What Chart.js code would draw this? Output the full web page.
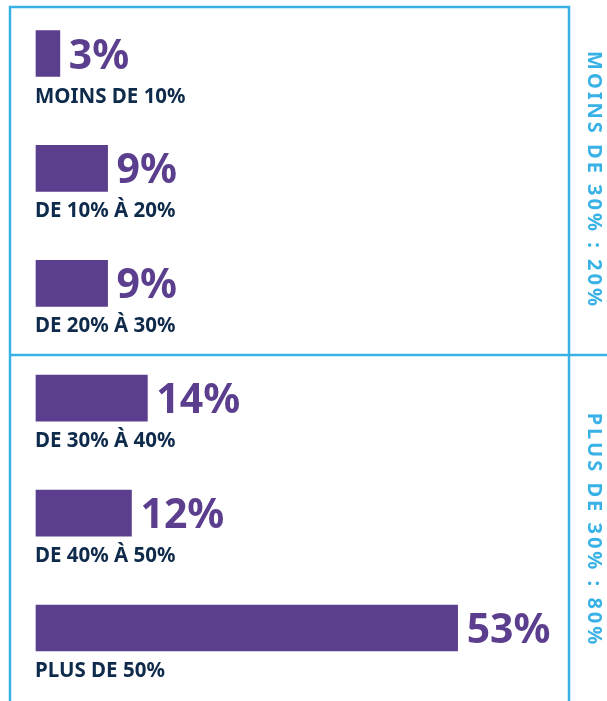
<!DOCTYPE html>
<html>
<head>
<meta charset="utf-8">
<script src="https://cdn.jsdelivr.net/npm/chart.js@4.4.0/dist/chart.umd.min.js"></script>
<style>
  html, body { margin: 0; padding: 0; background: #fff; }
  #graf { display: block; }
</style>
</head>
<body>
<canvas id="graf" width="607" height="701"></canvas>
<script>
// === DADOS ===
const categorias = ['MOINS DE 10%', 'DE 10% À 20%', 'DE 20% À 30%', 'DE 30% À 40%', 'DE 40% À 50%', 'PLUS DE 50%'];
const valores = [3, 9, 9, 14, 12, 53];
const grupos = ['MOINS DE 30% : 20%', 'PLUS DE 30% : 80%'];

const roxo = '#5b3e8d';
const azul = '#38b2e6';
const marinho = '#0f2b4b';

// desenha moldura, rótulos e textos laterais
const extras = {
  id: 'extras',
  afterDatasetsDraw(chart) {
    const ctx = chart.ctx;
    const x = chart.scales.x;
    const y = chart.scales.y;

    // moldura
    ctx.save();
    ctx.strokeStyle = azul;
    ctx.lineWidth = 2.5;
    ctx.beginPath();
    ctx.moveTo(10, 701);
    ctx.lineTo(10, 7);
    ctx.lineTo(569, 7);
    ctx.lineTo(569, 701);
    ctx.moveTo(10, 355);
    ctx.lineTo(607, 355);
    ctx.stroke();
    ctx.restore();

    // valores e categorias
    valores.forEach((v, i) => {
      const cy = y.getPixelForValue(i);
      const fim = x.getPixelForValue(v);
      ctx.save();
      ctx.fillStyle = roxo;
      ctx.font = 'bold 41px "Noto Sans"';
      ctx.textBaseline = 'alphabetic';
      ctx.fillText(v + '%', fim + 9, cy + 15);
      ctx.fillStyle = marinho;
      ctx.font = 'bold 20.5px "Noto Sans"';
      ctx.fillText(categorias[i], x.left - 1, cy + 49);
      ctx.restore();
    });

    // textos laterais
    const centros = [180, 530];
    grupos.forEach((g, i) => {
      ctx.save();
      ctx.translate(594, centros[i]);
      ctx.rotate(Math.PI / 2);
      ctx.fillStyle = azul;
      ctx.font = 'bold 20px "Noto Sans"';
      ctx.letterSpacing = '3px';
      ctx.textAlign = 'center';
      ctx.textBaseline = 'middle';
      ctx.fillText(g, 0, 0);
      ctx.restore();
    });
  }
};

const ctxGraf = document.getElementById('graf').getContext('2d');
new Chart(ctxGraf, {
  type: 'bar',
  data: {
    labels: categorias,
    datasets: [{
      data: valores,
      backgroundColor: roxo,
      barThickness: 46,
      clip: false
    }]
  },
  options: {
    indexAxis: 'y',
    responsive: false,
    animation: false,
    layout: {
      padding: { left: 36, right: 38, top: 53.5, bottom: 73 }
    },
    plugins: {
      legend: { display: false },
      tooltip: { enabled: false }
    },
    scales: {
      x: { display: false, min: 0, max: 67 },
      y: { display: false, offset: false }
    }
  },
  plugins: [extras]
});
</script>
</body>
</html>
